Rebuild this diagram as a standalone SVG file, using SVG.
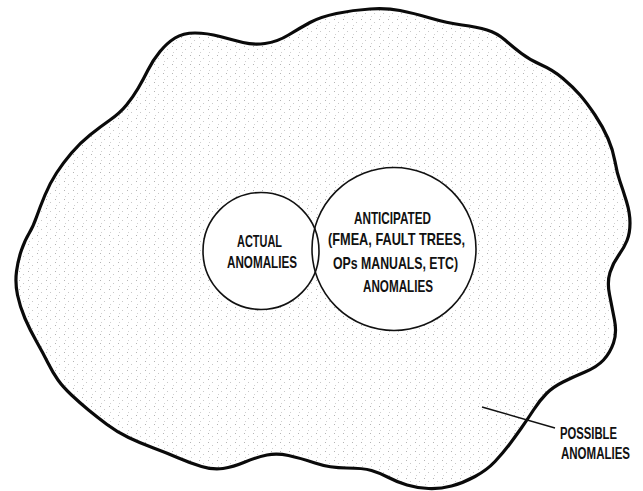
<svg xmlns="http://www.w3.org/2000/svg" width="643" height="491" viewBox="0 0 643 491">
  <style>
    .lbl { font-family: "Liberation Sans", Arial, sans-serif; font-weight: bold; font-size: 17px; fill: #111; }
    .ring { fill: none; stroke: #111; stroke-width: 1.6; }
    .hole { fill: #fff; stroke: none; }
    .lead { stroke: #111; stroke-width: 1.5; fill: none; }
  </style>
  <defs>
    <pattern id="stip" x="0" y="0" width="9" height="9" patternUnits="userSpaceOnUse">
      <rect x="1" y="1" width="1" height="1" fill="#b4b4b4"/>
      <rect x="5" y="4" width="1" height="1" fill="#c8c8c8"/>
      <rect x="2" y="7" width="1" height="1" fill="#d0d0d0"/>
    </pattern>
    <pattern id="stip2" x="0" y="0" width="13" height="11" patternUnits="userSpaceOnUse">
      <rect x="7" y="2" width="1" height="1" fill="#bdbdbd"/>
      <rect x="11" y="8" width="1" height="1" fill="#c6c6c6"/>
    </pattern>
  </defs>
  <rect width="643" height="491" fill="#fff"/>

  <g id="possible-anomalies">
    <path id="blob" d="M195,33 Q207,33 220,36.5 Q233,40 243,42.5 Q253,45 265,43.5 Q277,42 288.5,35 Q300,28 310,22.5 Q320,17 336.5,13.5 Q353,10 370,9 Q387,8 400,10.5 Q413,13 430,18 Q447,23 462,25 Q477,27 487,30 Q497,33 505,40 Q513,47 521.5,53.5 Q530,60 541.5,65 Q553,70 563,78.5 Q573,87 580,95 Q587,103 595,115 Q603,127 608,138.5 Q613,150 615,161.5 Q617,173 620,181.5 Q623,190 626.5,201.5 Q630,213 630,223 Q630,233 627,240.5 Q624,248 618.5,255.5 Q613,263 610,272.5 Q607,282 609.5,294.5 Q612,307 614.5,320 Q617,333 613.5,343 Q610,353 603.5,360 Q597,367 585,372 Q573,377 563,382 Q553,387 546.5,393.5 Q540,400 533.5,410 Q527,420 521,428.5 Q515,437 509,445 Q503,453 495,461.5 Q487,470 475,476.5 Q463,483 451.5,486 Q440,489 428.5,488.5 Q417,488 407,485 Q397,482 388.5,477.5 Q380,473 371.5,470.5 Q363,468 346.5,468 Q330,468 315,463 Q300,458 288.5,455.5 Q277,453 267,455 Q257,457 245,462 Q233,467 223,468.5 Q213,470 201.5,466.5 Q190,463 178.5,458 Q167,453 153.5,448 Q140,443 128.5,437.5 Q117,432 107,424.5 Q97,417 88.5,410 Q80,403 71.5,395 Q63,387 58,380 Q53,373 48,363 Q43,353 36.5,341.5 Q30,330 25,318.5 Q20,307 17.5,295 Q15,283 16.5,271.5 Q18,260 21.5,250 Q25,240 29,233.5 Q33,227 36.5,217 Q40,207 45,195 Q50,183 56.5,173 Q63,163 71.5,153 Q80,143 90,135 Q100,127 110,120 Q120,113 126.5,105 Q133,97 138,88.5 Q143,80 148,70 Q153,60 160,51.5 Q167,43 175,38 Q183,33 195,33 Z" fill="url(#stip)"/>
    <use href="#blob" fill="url(#stip2)"/>
    <use href="#blob" fill="none" stroke="#0a0a0a" stroke-width="3.2" stroke-linejoin="round"/>
  </g>

  <g id="circle-fills">
    <ellipse class="hole" cx="261" cy="251" rx="58" ry="58.5"/>
    <ellipse class="hole" cx="394" cy="249" rx="82" ry="81.5"/>
  </g>

  <g id="actual-anomalies">
    <ellipse class="ring" cx="261" cy="251" rx="58" ry="58.5"/>
    <text class="lbl" x="237" y="247" textLength="45" lengthAdjust="spacingAndGlyphs">ACTUAL</text>
    <text class="lbl" x="227" y="267.5" textLength="70" lengthAdjust="spacingAndGlyphs">ANOMALIES</text>
  </g>

  <g id="anticipated-anomalies">
    <ellipse class="ring" cx="394" cy="249" rx="82" ry="81.5"/>
    <text class="lbl" x="354" y="224" textLength="77" lengthAdjust="spacingAndGlyphs">ANTICIPATED</text>
    <text class="lbl" x="328" y="245" textLength="137" lengthAdjust="spacingAndGlyphs">(FMEA, FAULT TREES,</text>
    <text class="lbl" x="333" y="268.5" textLength="125" lengthAdjust="spacingAndGlyphs">OPs MANUALS, ETC)</text>
    <text class="lbl" x="363" y="292" textLength="70" lengthAdjust="spacingAndGlyphs">ANOMALIES</text>
  </g>

  <g id="connectors">
    <line class="lead" x1="482" y1="407" x2="555" y2="428"/>
  </g>

  <g id="possible-label" transform="translate(560,0) scale(0.67,1)">
    <text class="lbl" x="0" y="439.5" textLength="85" lengthAdjust="spacingAndGlyphs">POSSIBLE</text>
    <text class="lbl" x="1.5" y="459.5" textLength="103" lengthAdjust="spacingAndGlyphs">ANOMALIES</text>
  </g>
</svg>
